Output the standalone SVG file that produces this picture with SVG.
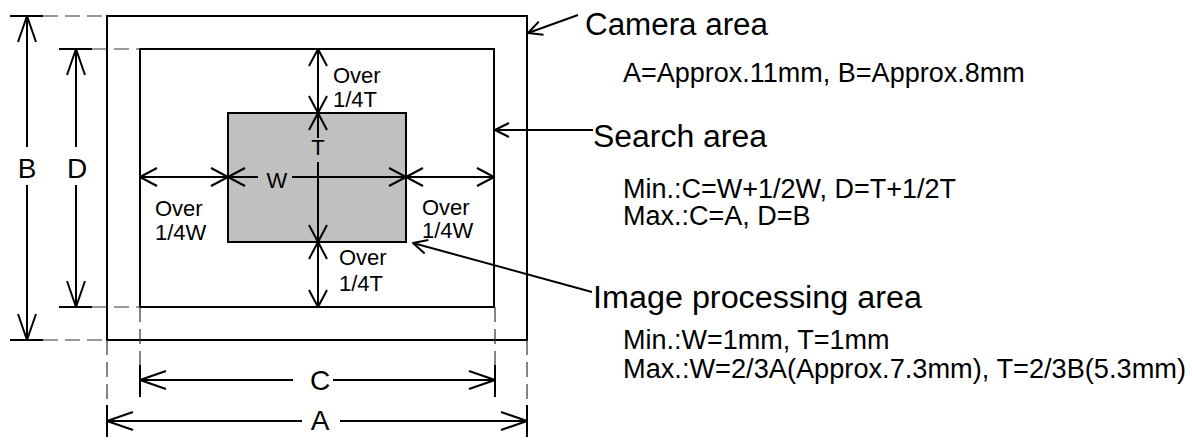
<svg xmlns="http://www.w3.org/2000/svg" width="1192" height="442" viewBox="0 0 1192 442">
<style>
.box{fill:none;stroke:#000;stroke-width:2}
.ln{stroke:#000;stroke-width:2;fill:none}
.dash{stroke:#333;stroke-width:1.2;stroke-dasharray:15 7;fill:none}
.dim{font-family:"Liberation Sans",Arial,sans-serif;font-size:28px;fill:#000;text-anchor:middle}
.sm{font-family:"Liberation Sans",Arial,sans-serif;font-size:22px;fill:#000}
.ttl{font-family:"Liberation Sans",Arial,sans-serif;font-size:31px;fill:#000}
.note{font-family:"Liberation Sans",Arial,sans-serif;font-size:27px;fill:#000}
</style>
<defs>
<marker id="big" markerUnits="userSpaceOnUse" viewBox="-30 -12 32 24" refX="0" refY="0" markerWidth="32" markerHeight="24" orient="auto-start-reverse" overflow="visible">
<path d="M-26,-9 L0,0 L-26,9" fill="none" stroke="#000" stroke-width="2" stroke-linejoin="round"/>
</marker>
<marker id="mid" markerUnits="userSpaceOnUse" viewBox="-20 -12 22 24" refX="0" refY="0" markerWidth="22" markerHeight="24" orient="auto-start-reverse" overflow="visible">
<path d="M-17,-9 L0,0 L-17,9" fill="none" stroke="#000" stroke-width="2" stroke-linejoin="round"/>
</marker>
<marker id="small" markerUnits="userSpaceOnUse" viewBox="-16 -10 18 20" refX="0" refY="0" markerWidth="18" markerHeight="20" orient="auto-start-reverse" overflow="visible">
<path d="M-14,-7 L0,0 L-14,7" fill="none" stroke="#000" stroke-width="2" stroke-linejoin="round"/>
</marker>
</defs>
<rect width="1192" height="442" fill="#fff"/>

<g id="camera-area">
<rect class="box" x="107" y="16" width="420" height="324"/>
<text class="ttl" x="585" y="35" textLength="183" lengthAdjust="spacingAndGlyphs">Camera area</text>
<text class="note" x="623" y="82">A=Approx.11mm, B=Approx.8mm</text>
</g>

<g id="search-area">
<rect class="box" x="140" y="49" width="354" height="258"/>
<text class="ttl" x="593" y="147" textLength="174" lengthAdjust="spacingAndGlyphs">Search area</text>
<text class="note" x="623" y="198">Min.:C=W+1/2W, D=T+1/2T</text>
<text class="note" x="623" y="225">Max.:C=A, D=B</text>
</g>

<g id="image-processing-area">
<rect x="228" y="113" width="178" height="129" fill="#c0c0c0" stroke="#000" stroke-width="2"/>
<text class="ttl" x="593" y="308" textLength="329" lengthAdjust="spacingAndGlyphs">Image processing area</text>
<text class="note" x="623" y="349">Min.:W=1mm, T=1mm</text>
<text class="note" x="623" y="378" textLength="563" lengthAdjust="spacingAndGlyphs">Max.:W=2/3A(Approx.7.3mm), T=2/3B(5.3mm)</text>
</g>

<g id="inner-labels">
<text class="sm" x="333" y="83">Over</text>
<text class="sm" x="333" y="107">1/4T</text>
<text class="sm" x="339" y="265">Over</text>
<text class="sm" x="339" y="291">1/4T</text>
<text class="sm" x="155" y="216">Over</text>
<text class="sm" x="155" y="240">1/4W</text>
<text class="sm" x="422" y="215">Over</text>
<text class="sm" x="422" y="238">1/4W</text>
<text class="sm" x="277" y="188" text-anchor="middle">W</text>
<text class="sm" x="318" y="155" text-anchor="middle">T</text>
</g>

<g id="dimension-labels">
<text class="dim" x="27" y="178">B</text>
<text class="dim" x="77" y="178">D</text>
<text class="dim" x="320" y="390">C</text>
<text class="dim" x="320" y="430">A</text>
</g>

<g id="connectors">
<line class="ln" x1="10" y1="16" x2="43" y2="16"/>
<line class="ln" x1="10" y1="340" x2="43" y2="340"/>
<line class="ln" x1="59" y1="49" x2="92" y2="49"/>
<line class="ln" x1="59" y1="307" x2="92" y2="307"/>
<line class="ln" x1="140" y1="365" x2="140" y2="397"/>
<line class="ln" x1="495" y1="365" x2="495" y2="397"/>
<line class="ln" x1="107" y1="405" x2="107" y2="437"/>
<line class="ln" x1="527" y1="405" x2="527" y2="437"/>
<line class="dash" x1="43" y1="16" x2="107" y2="16"/>
<line class="dash" x1="43" y1="340" x2="107" y2="340"/>
<line class="dash" x1="92" y1="49" x2="140" y2="49"/>
<line class="dash" x1="92" y1="307" x2="140" y2="307"/>
<line class="dash" x1="140" y1="307" x2="140" y2="365"/>
<line class="dash" x1="495" y1="307" x2="495" y2="365"/>
<line class="dash" x1="107" y1="340" x2="107" y2="405"/>
<line class="dash" x1="527" y1="340" x2="527" y2="405"/>
<line class="ln" x1="27" y1="147" x2="27" y2="16" marker-end="url(#big)"/>
<line class="ln" x1="27" y1="185" x2="27" y2="340" marker-end="url(#big)"/>
<line class="ln" x1="76" y1="147" x2="76" y2="49" marker-end="url(#big)"/>
<line class="ln" x1="76" y1="185" x2="76" y2="307" marker-end="url(#big)"/>
<line class="ln" x1="293" y1="380" x2="140" y2="380" marker-end="url(#big)"/>
<line class="ln" x1="333" y1="380" x2="495" y2="380" marker-end="url(#big)"/>
<line class="ln" x1="302" y1="421" x2="107" y2="421" marker-end="url(#big)"/>
<line class="ln" x1="340" y1="421" x2="527" y2="421" marker-end="url(#big)"/>
<line class="ln" x1="318" y1="49" x2="318" y2="113" marker-start="url(#mid)" marker-end="url(#mid)"/>
<line class="ln" x1="318" y1="138" x2="318" y2="113" marker-end="url(#mid)"/>
<line class="ln" x1="318" y1="162" x2="318" y2="242" marker-end="url(#mid)"/>
<line class="ln" x1="318" y1="242" x2="318" y2="307" marker-start="url(#mid)" marker-end="url(#mid)"/>
<line class="ln" x1="140" y1="177" x2="228" y2="177" marker-start="url(#mid)" marker-end="url(#mid)"/>
<line class="ln" x1="258" y1="177" x2="228" y2="177" marker-end="url(#mid)"/>
<line class="ln" x1="292" y1="177" x2="406" y2="177" marker-end="url(#mid)"/>
<line class="ln" x1="406" y1="177" x2="494" y2="177" marker-start="url(#mid)" marker-end="url(#mid)"/>
<line class="ln" x1="578" y1="15" x2="528" y2="33" marker-end="url(#small)"/>
<line class="ln" x1="593" y1="130" x2="495" y2="130" marker-end="url(#small)"/>
<line class="ln" x1="592" y1="292" x2="413" y2="243" marker-end="url(#small)"/>
</g>
</svg>
